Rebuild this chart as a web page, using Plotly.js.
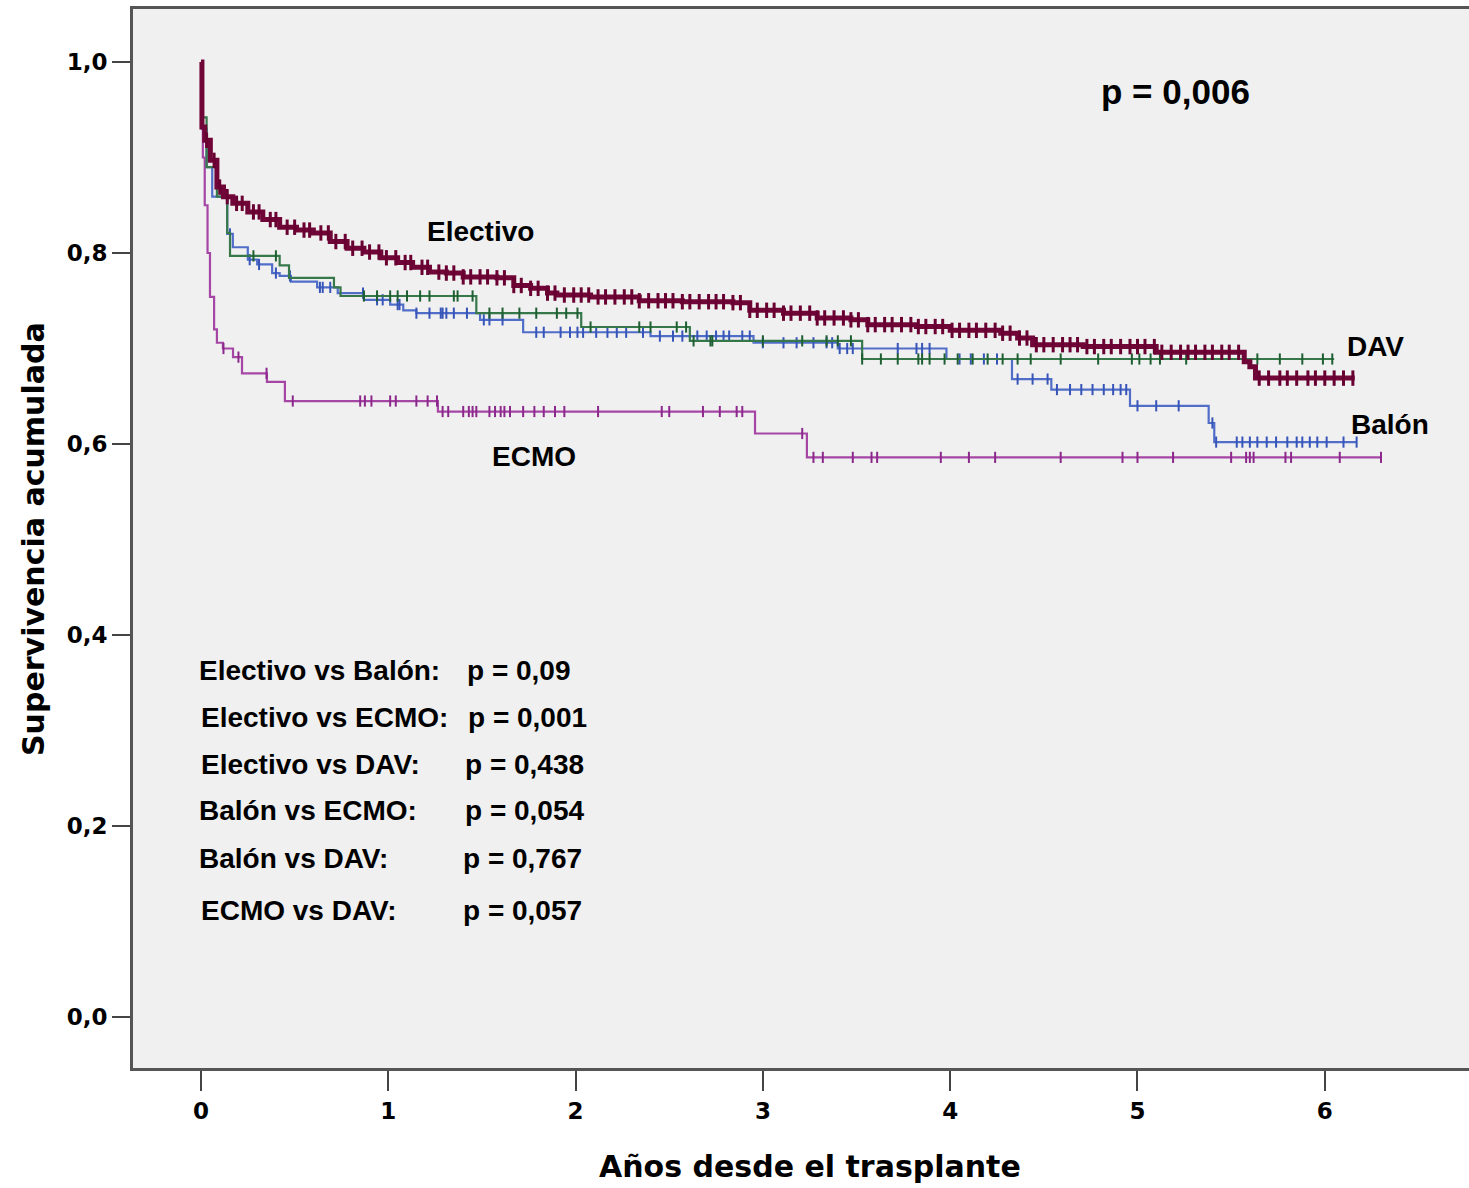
<!DOCTYPE html>
<html>
<head>
<meta charset="utf-8">
<script src="https://cdn.plot.ly/plotly-3.0.1.min.js"></script>
<style>
  html, body { margin: 0; padding: 0; background: #ffffff; }
  #chart { width: 1469px; height: 1188px; }
</style>
</head>
<body>
<div id="chart"></div>
<script>
// ---------- DATA ----------
const groupNames = ["Electivo", "Balón", "DAV", "ECMO"];

// Electivo (step curve: time in years, cumulative survival)
const electivoTime = [0, 0.005, 0.02, 0.05, 0.085, 0.12, 0.17, 0.25, 0.33, 0.42, 0.51, 0.60, 0.69, 0.78, 0.87, 0.96, 1.05, 1.13, 1.22, 1.31, 1.40, 1.58, 1.67, 1.76, 1.85, 1.90, 2.08, 2.34, 2.57, 2.84, 2.93, 3.11, 3.29, 3.47, 3.56, 3.82, 4.00, 4.27, 4.36, 4.44, 4.71, 5.10, 5.57, 5.60, 5.63, 6.16];
const electivoSurv = [1.0, 0.932, 0.918, 0.897, 0.869, 0.859, 0.852, 0.843, 0.835, 0.827, 0.824, 0.821, 0.812, 0.805, 0.801, 0.795, 0.790, 0.785, 0.780, 0.779, 0.775, 0.774, 0.766, 0.763, 0.758, 0.756, 0.754, 0.750, 0.749, 0.748, 0.740, 0.737, 0.732, 0.730, 0.725, 0.723, 0.719, 0.716, 0.711, 0.704, 0.702, 0.696, 0.686, 0.681, 0.669, 0.669];
const electivoCensor = [0.03, 0.07, 0.10, 0.14, 0.19, 0.22, 0.28, 0.31, 0.37, 0.40, 0.46, 0.50, 0.55, 0.58, 0.64, 0.68, 0.72, 0.77, 0.81, 0.86, 0.90, 0.95, 0.99, 1.04, 1.09, 1.12, 1.18, 1.21, 1.27, 1.31, 1.35, 1.40, 1.44, 1.49, 1.53, 1.58, 1.62, 1.67, 1.71, 1.76, 1.80, 1.85, 1.89, 1.94, 1.99, 2.03, 2.07, 2.12, 2.16, 2.21, 2.26, 2.30, 2.34, 2.39, 2.44, 2.48, 2.52, 2.57, 2.61, 2.66, 2.71, 2.75, 2.79, 2.84, 2.88, 2.93, 2.97, 3.02, 3.06, 3.11, 3.15, 3.20, 3.25, 3.29, 3.33, 3.38, 3.43, 3.47, 3.51, 3.56, 3.60, 3.65, 3.69, 3.74, 3.79, 3.83, 3.87, 3.92, 3.96, 4.01, 4.05, 4.10, 4.14, 4.19, 4.24, 4.28, 4.32, 4.37, 4.41, 4.46, 4.50, 4.55, 4.60, 4.64, 4.68, 4.73, 4.77, 4.82, 4.86, 4.91, 4.96, 5.00, 5.04, 5.09, 5.13, 5.18, 5.23, 5.27, 5.31, 5.36, 5.40, 5.45, 5.49, 5.54, 5.65, 5.70, 5.76, 5.80, 5.85, 5.91, 5.95, 6.00, 6.05, 6.10, 6.15];

// Balón
const balonTime = [0, 0.005, 0.03, 0.06, 0.14, 0.17, 0.25, 0.30, 0.38, 0.42, 0.48, 0.62, 0.73, 0.87, 1.01, 1.08, 1.15, 1.49, 1.72, 2.40, 2.95, 3.40, 3.98, 4.33, 4.54, 4.96, 5.38, 5.41, 6.17];
const balonSurv = [1.0, 0.93, 0.89, 0.859, 0.82, 0.806, 0.793, 0.788, 0.779, 0.776, 0.770, 0.764, 0.758, 0.751, 0.746, 0.740, 0.737, 0.730, 0.717, 0.713, 0.706, 0.700, 0.689, 0.668, 0.657, 0.640, 0.622, 0.602, 0.602];
const balonCensor = [0.155, 0.26, 0.31, 0.40, 0.475, 0.635, 0.65, 0.69, 0.865, 0.94, 0.97, 1.05, 1.06, 1.15, 1.22, 1.28, 1.29, 1.31, 1.35, 1.42, 1.51, 1.54, 1.61, 1.79, 1.83, 1.92, 1.97, 2.01, 2.04, 2.11, 2.17, 2.22, 2.27, 2.36, 2.45, 2.52, 2.57, 2.65, 2.70, 2.75, 2.79, 2.82, 2.89, 2.93, 3.00, 3.11, 3.18, 3.27, 3.34, 3.37, 3.41, 3.45, 3.48, 3.72, 3.82, 3.85, 3.89, 4.05, 4.11, 4.18, 4.25, 4.36, 4.44, 4.52, 4.57, 4.64, 4.70, 4.76, 4.82, 4.87, 4.91, 4.94, 5.00, 5.10, 5.22, 5.40, 5.42, 5.53, 5.56, 5.60, 5.64, 5.69, 5.74, 5.80, 5.85, 5.88, 5.92, 5.96, 6.01, 6.10, 6.17];

// DAV
const davTime = [0, 0.005, 0.03, 0.085, 0.14, 0.155, 0.42, 0.47, 0.71, 0.745, 1.47, 2.03, 2.61, 3.53, 6.05];
const davSurv = [1.0, 0.942, 0.89, 0.859, 0.821, 0.797, 0.787, 0.774, 0.764, 0.755, 0.737, 0.7225, 0.708, 0.689, 0.689];
const davCensor = [0.28, 0.40, 0.87, 0.94, 1.01, 1.05, 1.10, 1.17, 1.22, 1.35, 1.37, 1.45, 1.54, 1.61, 1.70, 1.79, 1.90, 1.95, 2.01, 2.08, 2.34, 2.40, 2.54, 2.59, 2.63, 2.72, 2.73, 3.00, 3.21, 3.34, 3.40, 3.47, 3.53, 3.63, 3.72, 3.83, 3.85, 3.89, 3.97, 4.04, 4.12, 4.20, 4.28, 4.36, 4.43, 4.59, 4.79, 4.97, 5.01, 5.07, 5.12, 5.26, 5.64, 5.76, 5.88, 5.99, 6.04];

// ECMO
const ecmoTime = [0, 0.01, 0.02, 0.035, 0.048, 0.07, 0.085, 0.117, 0.171, 0.219, 0.352, 0.448, 1.265, 2.958, 3.235, 6.305];
const ecmoSurv = [1.0, 0.90, 0.85, 0.80, 0.754, 0.72, 0.706, 0.70, 0.691, 0.674, 0.665, 0.645, 0.634, 0.611, 0.586, 0.586];
const ecmoCensor = [0.12, 0.20, 0.35, 0.49, 0.85, 0.875, 0.91, 1.01, 1.04, 1.15, 1.21, 1.26, 1.29, 1.32, 1.40, 1.43, 1.45, 1.47, 1.54, 1.57, 1.60, 1.62, 1.65, 1.72, 1.78, 1.83, 1.89, 1.94, 2.12, 2.46, 2.50, 2.68, 2.77, 2.86, 2.89, 3.21, 3.27, 3.32, 3.48, 3.58, 3.61, 3.95, 4.10, 4.24, 4.59, 4.92, 5.00, 5.19, 5.50, 5.58, 5.60, 5.62, 5.79, 5.82, 6.08, 6.30];

// Ticks
const xTickVals = [0, 1, 2, 3, 4, 5, 6];
const xTickText = ["0", "1", "2", "3", "4", "5", "6"];
const yTickVals = [0, 0.2, 0.4, 0.6, 0.8, 1.0];
const yTickText = ["0,0", "0,2", "0,4", "0,6", "0,8", "1,0"];

// Texts
const xTitle = "Años desde el trasplante";
const yTitle = "Supervivencia acumulada";
const globalP = "p = 0,006";
const pairLabels = ["Electivo vs Balón:", "Electivo vs ECMO:", "Electivo vs DAV:", "Balón vs ECMO:", "Balón vs DAV:", "ECMO vs DAV:"];
const pairPvalues = ["p = 0,09", "p = 0,001", "p = 0,438", "p = 0,054", "p = 0,767", "p = 0,057"];

// ---------- BUILD ----------
function stepAt(ts, ss, t) {
  let v = ss[0];
  for (let i = 0; i < ts.length; i++) { if (ts[i] <= t) v = ss[i]; else break; }
  return v;
}

const groups = [
  { name: "ECMO", t: ecmoTime, s: ecmoSurv, c: ecmoCensor, line: "rgb(165,70,165)", mark: "rgb(140,40,140)", w: 2.2, ms: 8, mw: 2 },
  { name: "Balón", t: balonTime, s: balonSurv, c: balonCensor, line: "rgb(80,110,200)", mark: "rgb(55,85,185)", w: 2.2, ms: 8, mw: 2 },
  { name: "DAV", t: davTime, s: davSurv, c: davCensor, line: "rgb(55,120,75)", mark: "rgb(30,95,50)", w: 2.2, ms: 8, mw: 2 },
  { name: "Electivo", t: electivoTime, s: electivoSurv, c: electivoCensor, line: "rgb(112,5,55)", mark: "rgb(105,0,50)", w: 5, ms: 11, mw: 3 }
];

const traces = [];
groups.forEach(g => {
  traces.push({
    type: "scatter", mode: "lines", name: g.name,
    x: g.t, y: g.s,
    line: { shape: "hv", color: g.line, width: g.w },
    hoverinfo: "x+y+name", showlegend: false
  });
  traces.push({
    type: "scatter", mode: "markers", name: g.name + " censurado",
    x: g.c, y: g.c.map(t => stepAt(g.t, g.s, t)),
    marker: { symbol: "line-ns-open", size: g.ms, color: g.mark, line: { color: g.mark, width: g.mw } },
    hoverinfo: "x+y+name", showlegend: false
  });
});

const X0 = 133, X1 = 1469, Y0 = 9, Y1 = 1068;
const px = x => (x - X0) / (X1 - X0);
const py = y => (Y1 - y) / (Y1 - Y0);

const anns = [];
const lblFont = { family: "Liberation Sans, Arial, sans-serif", size: 28, color: "#000", weight: 700 };
anns.push({ text: globalP, xref: "paper", yref: "paper", x: px(1175), y: py(92), xanchor: "center", yanchor: "middle", showarrow: false,
  font: { family: "Liberation Sans, Arial, sans-serif", size: 35, color: "#000", weight: 700 } });
const curveLabelPos = [[480, 231], [1390, 424], [1375, 346], [534, 456]]; // Electivo, Balón, DAV, ECMO
groupNames.forEach((n, i) => {
  anns.push({ text: n, xref: "paper", yref: "paper", x: px(curveLabelPos[i][0]), y: py(curveLabelPos[i][1]),
    xanchor: "center", yanchor: "middle", showarrow: false, font: lblFont });
});
const rowY = [670, 717, 765, 810, 858, 910];
const leftX = [197, 199, 199, 197, 197, 199];
const rightX = [465, 466, 463, 463, 461, 461];
pairLabels.forEach((t, i) => {
  anns.push({ text: t, xref: "paper", yref: "paper", x: px(leftX[i]), y: py(rowY[i]), xanchor: "left", yanchor: "middle", showarrow: false, font: lblFont });
  anns.push({ text: pairPvalues[i], xref: "paper", yref: "paper", x: px(rightX[i]), y: py(rowY[i]), xanchor: "left", yanchor: "middle", showarrow: false, font: lblFont });
});
const titleFont = { family: "DejaVu Sans, Verdana, sans-serif", size: 30, color: "#000", weight: 700 };
anns.push({ text: xTitle, xref: "paper", yref: "paper", x: px(810), y: py(1166), xanchor: "center", yanchor: "middle", showarrow: false, font: titleFont });
anns.push({ text: yTitle, xref: "paper", yref: "paper", x: px(33), y: py(539), xanchor: "center", yanchor: "middle", textangle: -90, showarrow: false, font: titleFont });

const tickFont = { family: "DejaVu Sans, Verdana, sans-serif", size: 23, color: "#000", weight: 700 };

const layout = {
  width: 1469, height: 1188,
  margin: { l: X0, r: 1469 - X1, t: Y0, b: 1188 - Y1, pad: 0 },
  paper_bgcolor: "#ffffff",
  plot_bgcolor: "#f0f0f0",
  showlegend: false,
  xaxis: {
    range: [-0.363, 6.77], tickvals: xTickVals, ticktext: xTickText,
    ticks: "outside", ticklen: 20, tickwidth: 2, tickcolor: "#444",
    showline: true, linecolor: "#555", linewidth: 3, mirror: true,
    showgrid: false, zeroline: false, tickfont: tickFont, automargin: false
  },
  yaxis: {
    range: [-0.0534, 1.0555], tickvals: yTickVals, ticktext: yTickText,
    ticks: "outside", ticklen: 18, tickwidth: 2, tickcolor: "#444",
    showline: true, linecolor: "#555", linewidth: 3,
    showgrid: false, zeroline: false, tickfont: tickFont, automargin: false
  },
  annotations: anns
};

Plotly.newPlot("chart", traces, layout, { staticPlot: true, displayModeBar: false });
</script>
</body>
</html>
